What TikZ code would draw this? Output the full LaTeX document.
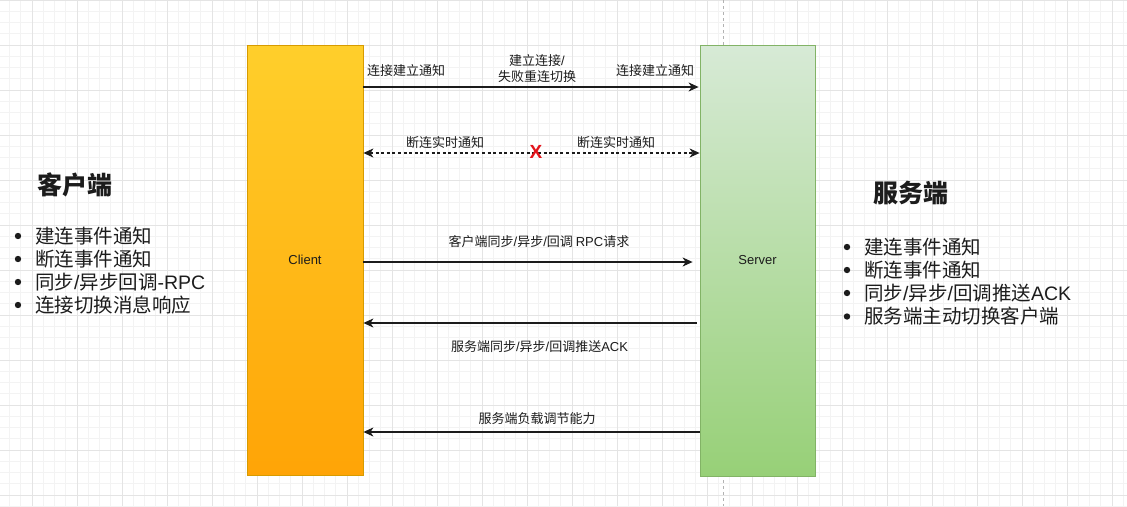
\documentclass[tikz,border=0pt]{standalone}
\usepackage{fontspec}
\setmainfont{Noto Sans CJK SC}
\newfontfamily\lat{Liberation Sans}
\usetikzlibrary{arrows.meta}

\definecolor{gridminor}{HTML}{F3F3F3}
\definecolor{gridmajor}{HTML}{E4E4E4}
\definecolor{clienttop}{HTML}{FFCF2B}
\definecolor{clientbot}{HTML}{FFA406}
\definecolor{clientline}{HTML}{D79B00}
\definecolor{servertop}{HTML}{D7EAD6}
\definecolor{serverbot}{HTML}{97D077}
\definecolor{serverline}{HTML}{82B366}
\definecolor{ink}{HTML}{1C1C1C}
\definecolor{crossred}{HTML}{E3141B}

\tikzset{
  minorline/.style={draw=gridminor, line width=0.7pt},
  majorline/.style={draw=gridmajor, line width=0.9pt},
  lane/.style={minimum width=116pt, minimum height=430pt, line width=0.8pt,
    font=\lat\fontsize{13}{15}\selectfont, text=ink},
  tip/.tip={Stealth[length=10pt, width=9pt, inset=3pt]},
  msg/.style={draw=ink, line width=1.1pt, -tip},
  twoway/.style={draw=ink, line width=1.1pt, dash pattern=on 3pt off 2.6pt, tip-tip},
  msglabel/.style={font=\fontsize{13}{16}\selectfont, text=ink, align=center, inner sep=0pt},
  heading/.style={font=\bfseries\fontsize{25}{28}\selectfont, text=ink, anchor=west, inner sep=0pt},
  item/.style={font=\fontsize{19.5}{22}\selectfont, text=ink, anchor=west, inner sep=0pt},
  dot/.style={fill=ink},
}

\begin{document}
\begin{tikzpicture}[x=1pt, y=-1pt]
\useasboundingbox (0,0) rectangle (1127,506);
\fill[white] (0,0) rectangle (1127,506);

% background grid
\foreach \i in {0,...,99} \draw[minorline] ({9.5+11.25*\i},0) -- ++(0,506);
\foreach \j in {0,...,45} \draw[minorline] (0,{11.25*\j}) -- ++(1127,0);
\foreach \i in {0,...,24} \draw[majorline] ({32+45*\i},0) -- ++(0,506);
\foreach \j in {0,...,11} \draw[majorline] (0,{45*\j}) -- ++(1127,0);

% divider behind the server lane
\coordinate (divtop) at (723.5,0);
\coordinate (divbot) at (723.5,506);
\draw[gray!60, line width=1pt, dash pattern=on 3pt off 3pt] (divtop) -- (divbot);

% lanes
\node[lane, draw=clientline, top color=clienttop, bottom color=clientbot]
  (client) at (305,260) {Client};
\node[lane, minimum width=115pt, minimum height=431pt, draw=serverline,
  top color=servertop, bottom color=serverbot]
  (server) at (757.5,260.5) {Server};

% message rows
\coordinate (r1) at (0,87);
\coordinate (r2) at (0,153);
\coordinate (r3) at (0,262);
\coordinate (r4) at (0,323);
\coordinate (r5) at (0,432);

\draw[msg] (client.east |- r1) -- ([xshift=-1pt]server.west |- r1);
\draw[twoway] (client.east |- r2) -- (server.west |- r2);
\draw[msg, shorten >=7pt] (client.east |- r3) -- (server.west |- r3);
\draw[msg, shorten <=3pt] (server.west |- r4) -- (client.east |- r4);
\draw[msg] (server.west |- r5) -- (client.east |- r5);

% labels
\node[msglabel] (l1a) at (406,71) {连接建立通知};
\node[msglabel] (l1b) at (537,69) {建立连接{\lat/}\\失败重连切换};
\node[msglabel] (l1c) at (655,71) {连接建立通知};
\node[msglabel] (l2a) at (445,142.5) {断连实时通知};
\node[msglabel] (l2b) at (616,142.5) {断连实时通知};
\node[text=crossred, font=\lat\bfseries\fontsize{19}{19}\selectfont, inner sep=0pt]
  (cut) at (536,152) {X};
\node[msglabel] (l3) at (539,242) {客户端同步{\lat/}异步{\lat/}回调 {\lat RPC}请求};
\node[msglabel] (l4) at (539.5,347) {服务端同步{\lat/}异步{\lat/}回调推送{\lat ACK}};
\node[msglabel] (l5) at (537,418.5) {服务端负载调节能力};

% client side summary
\node[heading] (chead) at (37,185) {客户端};
\node[item] (c1) at (35,236) {建连事件通知};
\node[item] (c2) at (35,259) {断连事件通知};
\node[item] (c3) at (35,282) {同步{\lat/}异步回调{\lat -RPC}};
\node[item] (c4) at (35,305) {连接切换消息响应};
\foreach \n in {c1,c2,c3,c4} \fill[dot] ([xshift=-17pt]\n.west) circle (3.2pt);

% server side summary
\node[heading] (shead) at (873,193) {服务端};
\node[item] (s1) at (864,247) {建连事件通知};
\node[item] (s2) at (864,270) {断连事件通知};
\node[item] (s3) at (864,293) {同步{\lat/}异步{\lat/}回调推送{\lat ACK}};
\node[item] (s4) at (864,316.5) {服务端主动切换客户端};
\foreach \n in {s1,s2,s3,s4} \fill[dot] ([xshift=-17pt]\n.west) circle (3.2pt);
\end{tikzpicture}
\end{document}
